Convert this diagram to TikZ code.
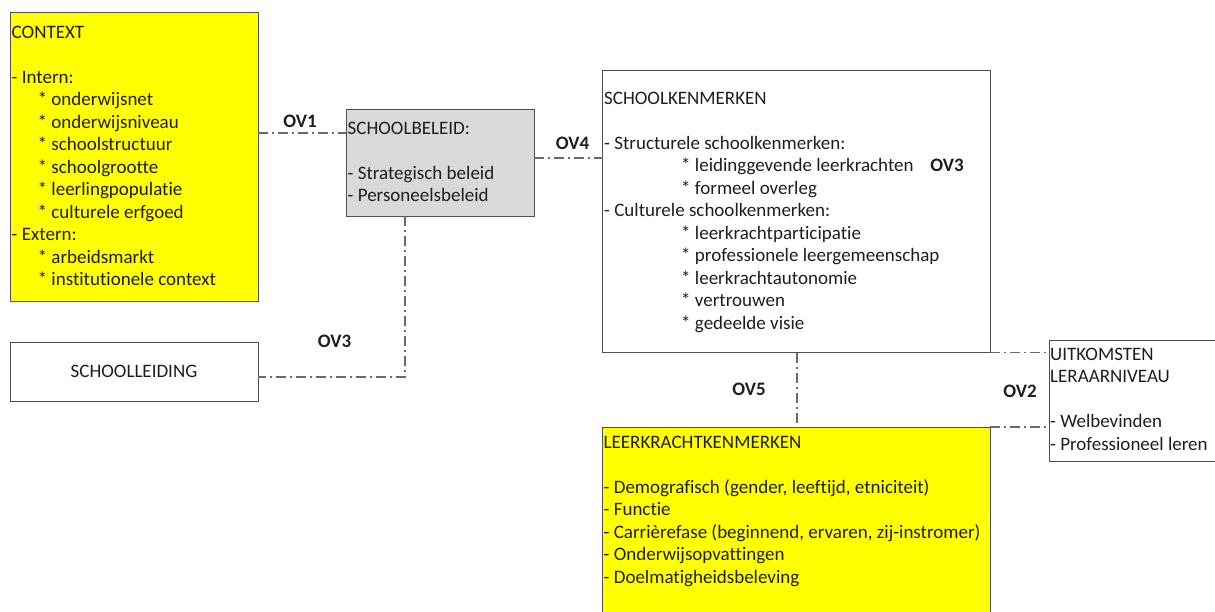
\documentclass[tikz,border=0pt]{standalone}
\usepackage{fontspec}
\setmainfont{Carlito}[Ligatures={NoCommon}]
\definecolor{bordc}{HTML}{505050}
\definecolor{connc}{HTML}{6A6A6A}
\definecolor{txtc}{HTML}{1E1E1E}
\definecolor{beleidfill}{HTML}{D9D9D9}
\definecolor{ctxyellow}{HTML}{FFFF00}
\newcommand{\ind}{\hspace*{26pt}}
\newcommand{\indk}{\hspace*{77pt}}
\begin{document}
\begin{tikzpicture}[x=1pt,y=-1pt,
  box/.style={draw=bordc, line width=1pt, inner sep=0pt, outer sep=0pt, anchor=north west},
  txt/.style={inner sep=0pt, anchor=north west, align=left, font=\fontsize{19}{22.5}\selectfont, text=txtc},
  lbl/.style={inner sep=0pt, font=\fontsize{19}{22}\selectfont\bfseries, text=txtc},
  conn/.style={draw=connc, line width=1.1pt, dash pattern=on 10pt off 4pt on 2pt off 4pt}]
\useasboundingbox (0,0) rectangle (1215,611);

% boxes
\node[box, fill=ctxyellow, minimum width=248pt, minimum height=289pt] (context) at (10,12) {};
\node[box, fill=beleidfill, minimum width=188pt, minimum height=107pt] (beleid) at (346,109) {};
\node[box, fill=white, minimum width=387.5pt, minimum height=282pt] (kenmerken) at (602.5,70.5) {};
\node[box, fill=white, minimum width=248pt, minimum height=59pt] (leiding) at (10,342) {};
\node[box, fill=white, minimum width=170pt, minimum height=121pt] (uitkomsten) at (1049,340) {};
\node[box, fill=ctxyellow, minimum width=387.5pt, minimum height=200pt] (leerkracht) at (602.5,427) {};

% texts
\node[txt] (contextT) at (11.5,22.25) {\strut CONTEXT\\[22.5pt]
- Intern:\\
\ind * onderwijsnet\\
\ind * onderwijsniveau\\
\ind * schoolstructuur\\
\ind * schoolgrootte\\
\ind * leerlingpopulatie\\
\ind * culturele erfgoed\\
- Extern:\\
\ind * arbeidsmarkt\\
\ind * institutionele context};

\node[txt] (beleidT) at (347.5,118.25) {\strut SCHOOLBELEID:\\[22.5pt]
- Strategisch beleid\\
- Personeelsbeleid};

\node[txt] (kenmerkenT) at (604,88.25) {\strut SCHOOLKENMERKEN\\[22.5pt]
- Structurele schoolkenmerken:\\
\indk * leidinggevende leerkrachten\\
\indk * formeel overleg\\
- Culturele schoolkenmerken:\\
\indk * leerkrachtparticipatie\\
\indk * professionele leergemeenschap\\
\indk * leerkrachtautonomie\\
\indk * vertrouwen\\
\indk * gedeelde visie};

\node[txt, anchor=center, align=center] (leidingT) at (leiding.center) {SCHOOLLEIDING};

\node[txt] (uitkomstenT) at (1050,344.25) {\strut UITKOMSTEN\\
LERAARNIVEAU\\[22.5pt]
- Welbevinden\\
- Professioneel leren};

\node[txt] (leerkrachtT) at (603.5,432.25) {\strut LEERKRACHTKENMERKEN\\[22.5pt]
- Demografisch (gender, leeftijd, etniciteit)\\
- Functie\\
- Carrièrefase (beginnend, ervaren, zij-instromer)\\
- Onderwijsopvattingen\\
- Doelmatigheidsbeleving};

% connectors
\coordinate (ov3corner) at (405,377);
\draw[conn] (context.east |- 0,133) -- (beleid.west |- 0,133);
\draw[conn] (beleid.east |- 0,158) -- (kenmerken.west |- 0,158);
\draw[conn] (beleid.south -| ov3corner) -- (ov3corner) -- (leiding.east |- ov3corner);
\draw[conn] (kenmerken.south -| 797,0) -- (leerkracht.north -| 797,0);
\draw[conn] (kenmerken.south east) -- (uitkomsten.west |- kenmerken.south east);
\draw[conn] (leerkracht.north east) -- (uitkomsten.west |- leerkracht.north east);

% labels
\node[lbl] (ov1) at (300,121) {OV1};
\node[lbl] (ov4) at (572.5,143) {OV4};
\node[lbl] (ov3a) at (334.5,341.5) {OV3};
\node[lbl] (ov3b) at (947,165) {OV3};
\node[lbl] (ov5) at (749,389) {OV5};
\node[lbl] (ov2) at (1020,391) {OV2};
\end{tikzpicture}
\end{document}
